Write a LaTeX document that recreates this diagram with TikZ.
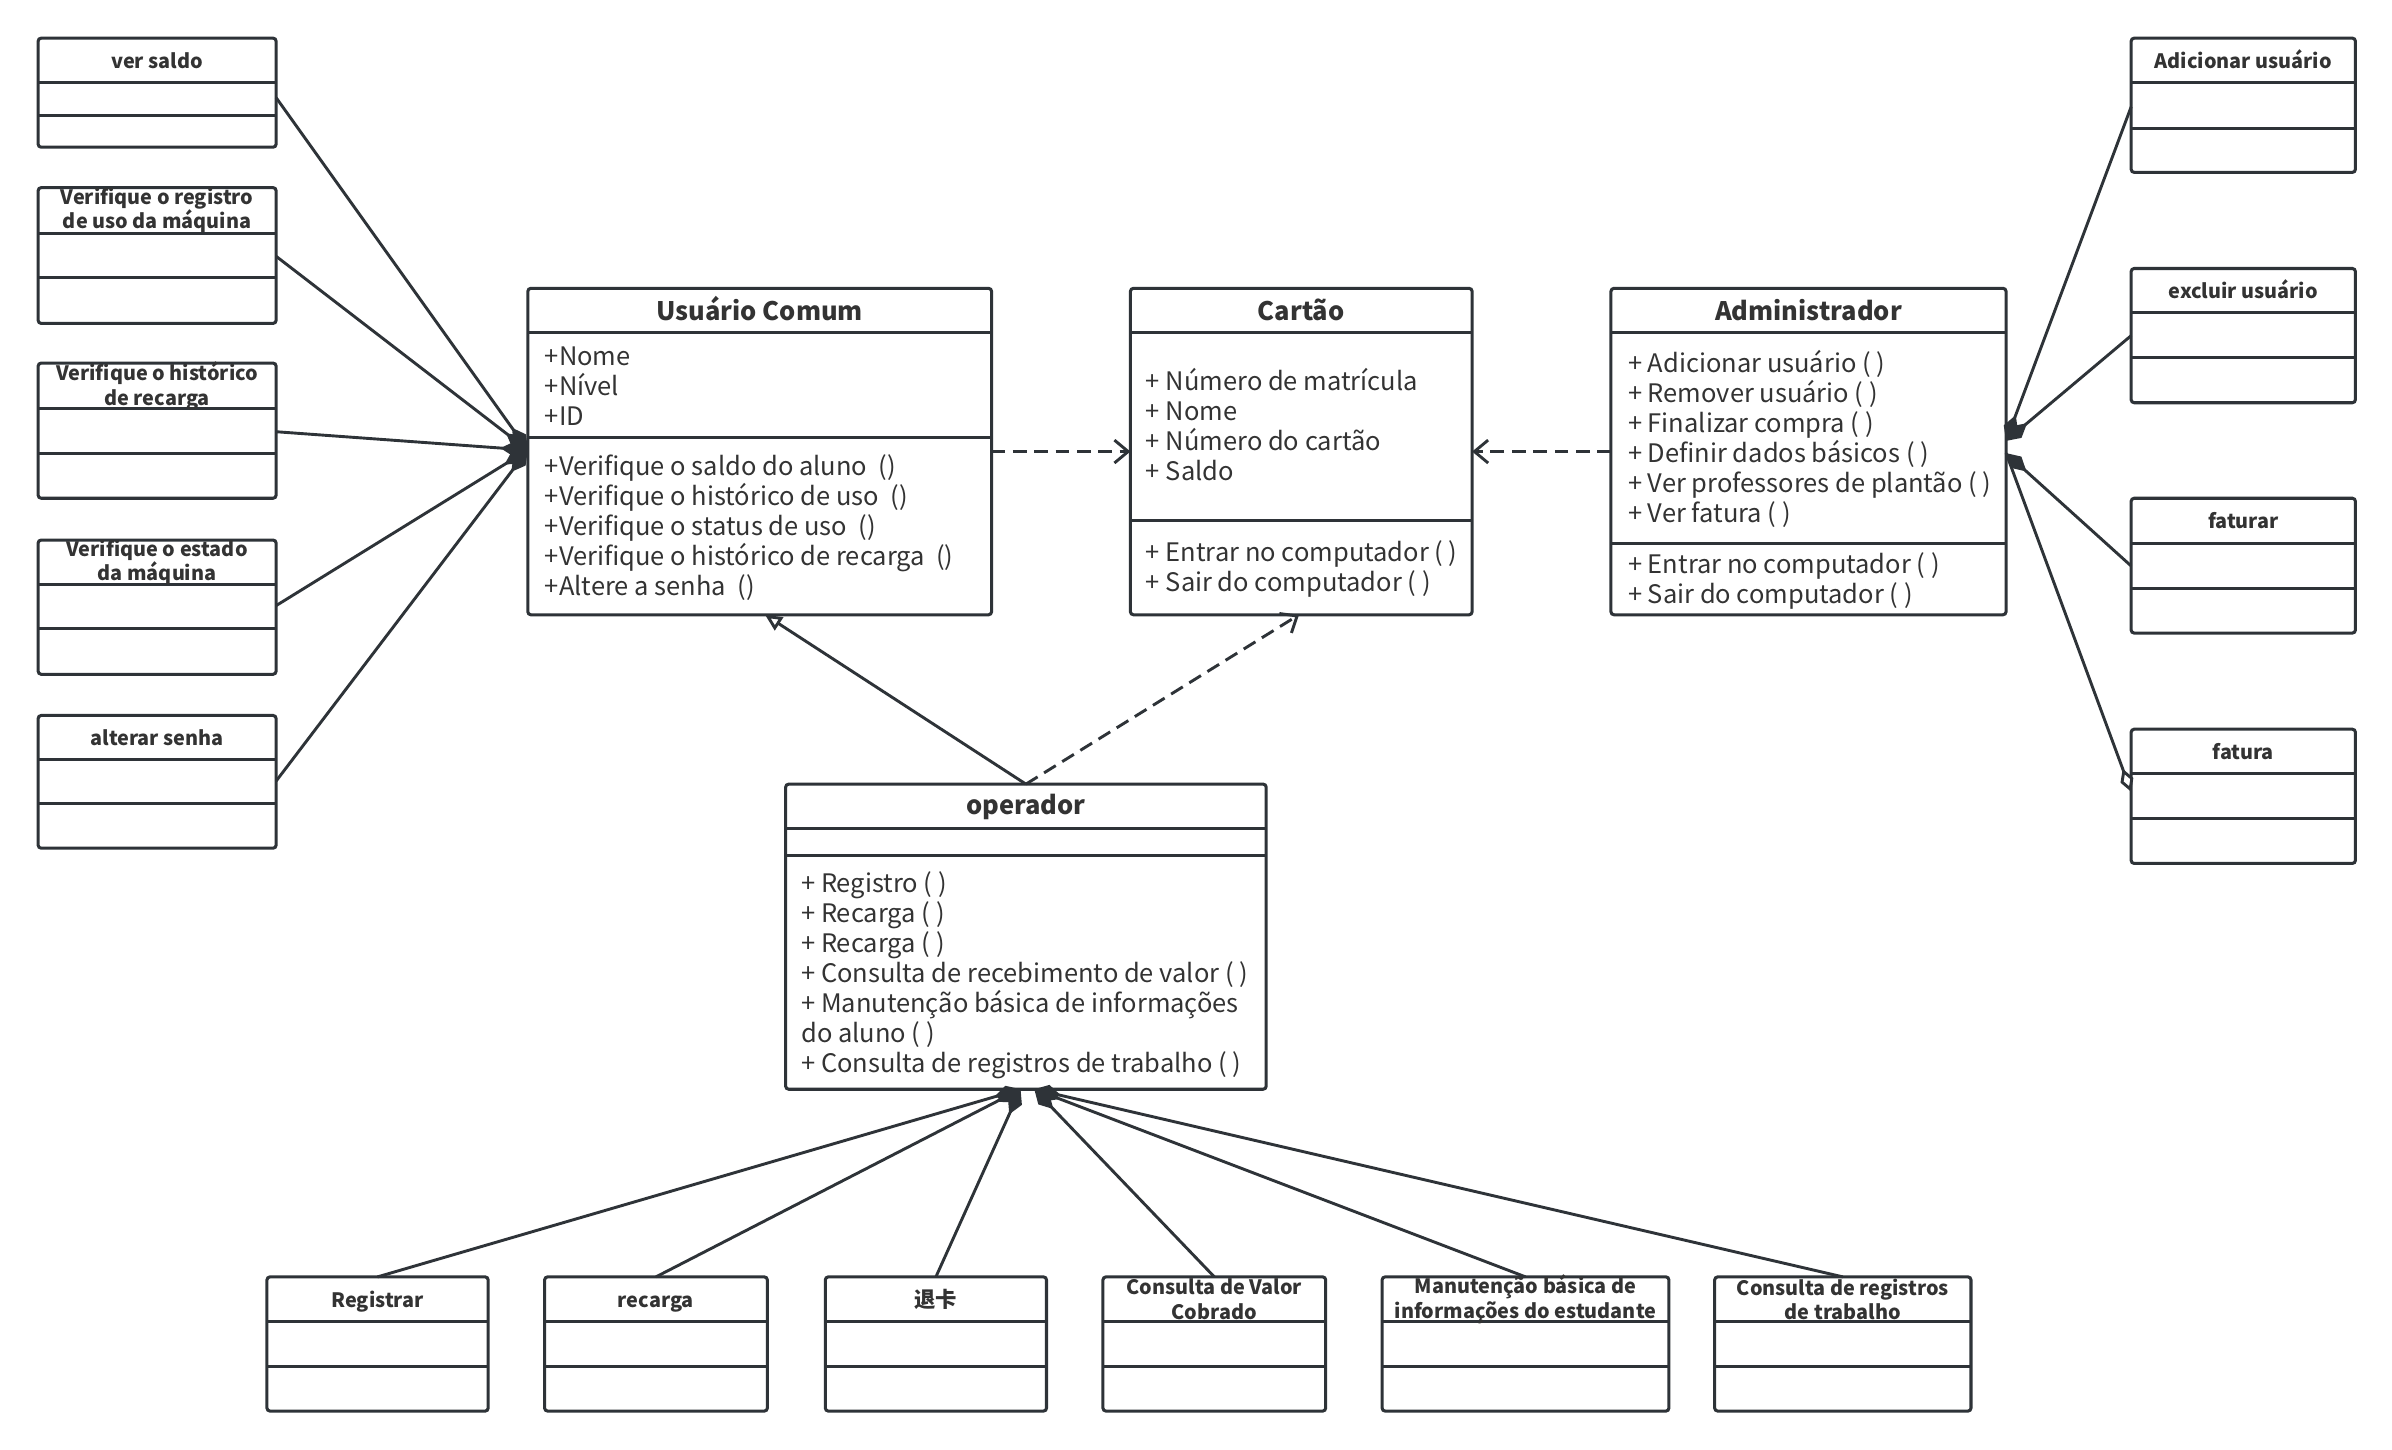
\documentclass[tikz,border=0pt]{standalone}
\usepackage{fontspec}
\setmainfont{Noto Sans CJK SC}
\usetikzlibrary{arrows.meta,calc}
\definecolor{ln}{HTML}{2E3338}
\definecolor{tx}{HTML}{333333}
\tikzset{
 box/.style={draw=ln, line width=2pt, rounded corners=2pt, fill=white, anchor=north west, inner sep=0pt, outer sep=0pt},
 sepl/.style={draw=ln, line width=2pt},
 txt/.style={anchor=base west, inner sep=0pt, text=tx, font=\fontsize{16.7}{19.7}\selectfont},
 ttl/.style={anchor=base, inner sep=0pt, text=tx, font=\fontsize{16.7}{19.7}\selectfont\bfseries},
 sttl/.style={anchor=center, inner sep=0pt, text=tx, align=center, font=\fontsize{13}{16}\selectfont\bfseries},
 sttlone/.style={anchor=base, inner sep=0pt, text=tx, font=\fontsize{13}{16}\selectfont\bfseries},
 conn/.style={draw=ln, line width=1.9pt},
 comp/.style={conn, -{Diamond[length=18pt,width=10pt]}},
 dep/.style={conn, dash pattern=on 9pt off 5pt, -{Straight Barb[length=9pt,width=15pt]}},
 gen/.style={conn, -{Triangle[open,length=11pt,width=10pt,fill=white]}},
}
\newcommand\umlbox[6]{%
 \node[box, minimum width={(#4-#2)*1pt}, minimum height={(#5-#3)*1pt}] (#1) at (#2,#3) {};
 \foreach \s in {#6} {\draw[sepl] (#2,\s) -- (#4,\s);}%
}
\newcommand\umllines[5]{%
 \foreach \mytxt [count=\i] in {#5} {\node[txt] (#1\i) at (#2,{#3+(\i-1)*#4}) {\mytxt};}%
}
\begin{document}
\begin{tikzpicture}[x=1pt,y=-1pt]
\useasboundingbox (0,0) rectangle (1568,950);
\fill[white] (0,0) rectangle (1568,950);

% ---- main classes
\umlbox{uc}{346}{189}{650}{403}{218,287}
\node[ttl] (uct) at (498,209.8) {Usuário Comum};
\umllines{uca}{357}{239.3}{19.7}{+Nome,+Nível,+ID}
\umllines{ucm}{357}{311.4}{19.7}{+Verifique o saldo do aluno\ \ (),+Verifique o histórico de uso\ \ (),+Verifique o status de uso\ \ (),+Verifique o histórico de recarga\ \ (),+Altere a senha\ \ ()}

\umlbox{ca}{741}{189}{965}{403}{218,341}
\node[ttl] (cat) at (853,209.8) {Cartão};
\umllines{caa}{751}{256}{19.7}{+ Número de matrícula,+ Nome,+ Número do cartão,+ Saldo}
\umllines{cam}{751}{368}{19.7}{+ Entrar no computador ( ),+ Sair do computador ( )}

\umlbox{ad}{1056}{189}{1315}{403}{218,356}
\node[ttl] (adt) at (1185.5,209.8) {Administrador};
\umllines{ada}{1067}{244}{19.7}{+ Adicionar usuário ( ),+ Remover usuário ( ),+ Finalizar compra ( ),+ Definir dados básicos ( ),+ Ver professores de plantão ( ),+ Ver fatura ( )}
\umllines{adm}{1067}{376}{19.7}{+ Entrar no computador ( ),+ Sair do computador ( )}

\umlbox{op}{515}{514}{830}{714}{543,561}
\node[ttl] (opt) at (672.5,534) {operador};
\umllines{opm}{525}{585}{19.7}{+ Registro ( ),+ Recarga ( ),+ Recarga ( ),+ Consulta de recebimento de valor ( ),+ Manutenção básica de informações,do aluno ( ),+ Consulta de registros de trabalho ( )}

% ---- left small classes
\umlbox{vs}{25}{25}{181}{96.5}{54,75.5}
\node[sttlone] (vst) at (103,44.8) {ver saldo};
\umlbox{vr}{25}{123}{181}{212}{153,182}
\node[sttl] (vrt) at (103,138) {Verifique o registro\\de uso da máquina};
\umlbox{vh}{25}{238}{181}{326.6}{267.6,297}
\node[sttl] (vht) at (103,253) {Verifique o histórico\\de recarga};
\umlbox{ve}{25}{354}{181}{442}{383,412}
\node[sttl] (vet) at (103,368.5) {Verifique o estado\\da máquina};
\umlbox{as}{25}{469}{181}{556}{498,527}
\node[sttlone] (ast) at (103,488.8) {alterar senha};

% ---- right small classes
\umlbox{au}{1397}{25}{1544}{113}{54,84}
\node[sttlone] (aut) at (1470.5,44.8) {Adicionar usuário};
\umlbox{eu}{1397}{176}{1544}{264}{205,234.6}
\node[sttlone] (eut) at (1470.5,195.8) {excluir usuário};
\umlbox{ft}{1397}{326.6}{1544}{415}{356,385.5}
\node[sttlone] (ftt) at (1470.5,346.6) {faturar};
\umlbox{fa}{1397}{478}{1544}{566}{507,536.6}
\node[sttlone] (fat) at (1470.5,497.8) {fatura};

% ---- bottom small classes
\umlbox{rg}{175}{837}{320}{925}{866.5,895.5}
\node[sttlone] (rgt) at (247.5,856.8) {Registrar};
\umlbox{rc}{357}{837}{503}{925}{866.5,895.5}
\node[sttlone] (rct) at (430,856.8) {recarga};
\umlbox{tk}{541}{837}{686}{925}{866.5,895.5}
\node[sttlone, font=\fontsize{14}{16}\selectfont\bfseries] (tkt) at (613.5,857.3) {退卡};
\umlbox{cv}{723}{837}{869}{925}{866.5,895.5}
\node[sttl] (cvt) at (796,851.7) {Consulta de Valor\\Cobrado};
\umlbox{mb}{906}{837}{1094}{925}{866.5,895.5}
\node[sttl] (mbt) at (1000,851.7) {Manutenção básica de\\informações do estudante};
\umlbox{cr}{1124}{837}{1292}{925}{866.5,895.5}
\node[sttl] (crt) at (1208,851.7) {Consulta de registros\\de trabalho};

% ---- connectors
\draw[comp] (vs.east |- 0,64) -- (uc.west |- 0,295);
\draw[comp] (vr.east |- 0,168) -- (uc.west |- 0,295);
\draw[comp] (vh.east |- 0,283) -- (uc.west |- 0,295);
\draw[comp] (ve.east |- 0,397) -- (uc.west |- 0,295);
\draw[comp] (as.east |- 0,512) -- (uc.west |- 0,295);

\draw[comp] (au.west |- 0,70) -- (ad.east |- 0,289);
\draw[comp] (eu.west |- 0,220) -- (ad.east |- 0,289);
\draw[comp] (ft.west |- 0,371) -- (ad.east |- 0,297);
\draw[conn, {Diamond[open,length=16pt,width=9pt,fill=white]}-] (fa.west |- 0,519) -- (ad.east |- 0,297);

\draw[dep] (uc.east |- 0,296) -- (ca.west |- 0,296);
\draw[dep] (ad.west |- 0,296) -- (ca.east |- 0,296);
\draw[gen] (op.north) -- (uc.south -| 501.5,0);
\draw[dep] (op.north) -- (ca.south -| 851.5,0);

\draw[comp] (rg.north) -- (op.south -| 669,0);
\draw[comp] (rc.north) -- (op.south -| 669,0);
\draw[comp] (tk.north) -- (op.south -| 669,0);
\draw[comp] (cv.north) -- (op.south -| 678,0);
\draw[comp] (mb.north) -- (op.south -| 678,0);
\draw[comp] (cr.north) -- (op.south -| 678,0);
\end{tikzpicture}
\end{document}
